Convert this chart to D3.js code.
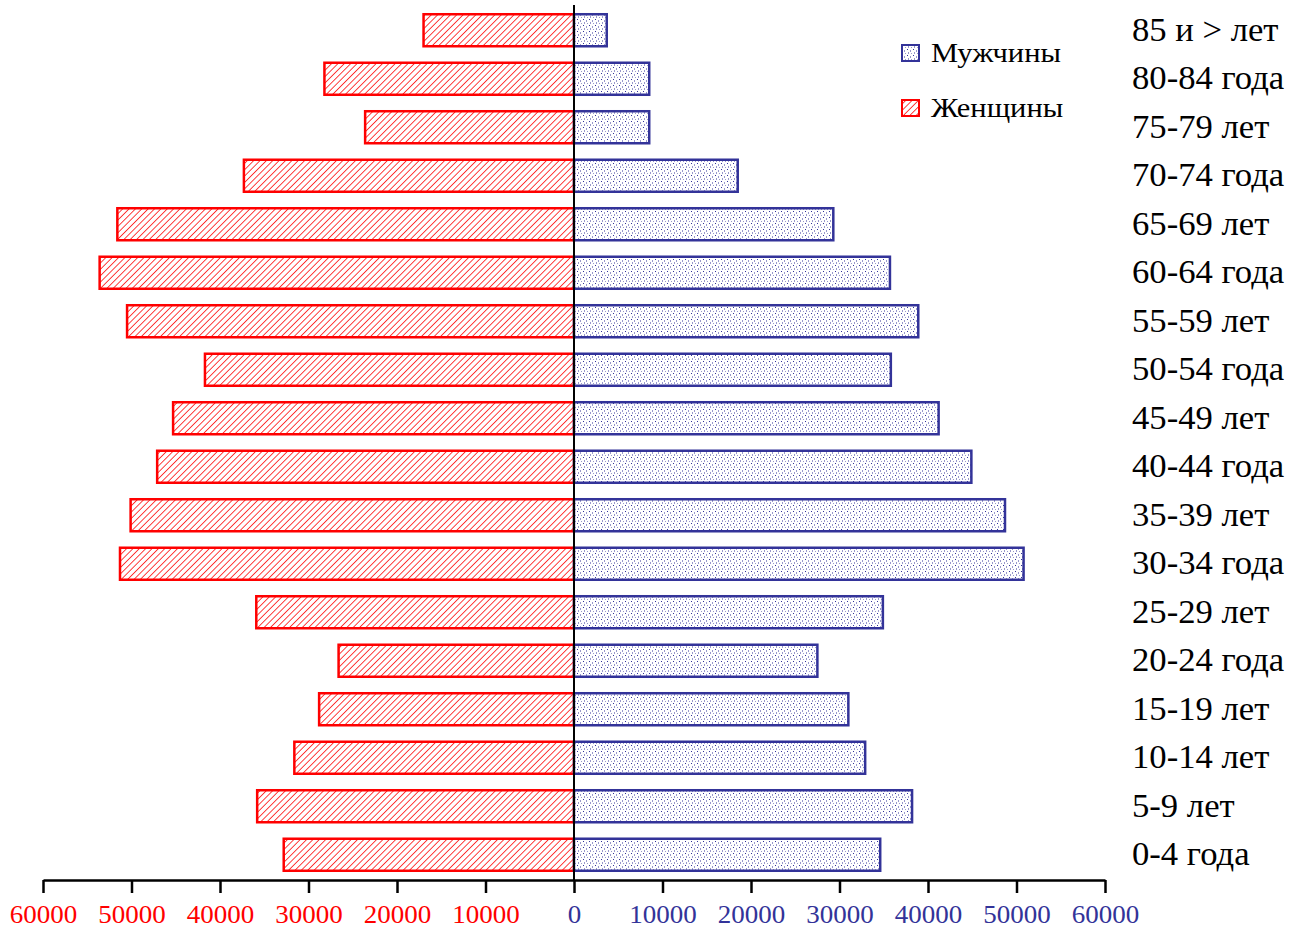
<!DOCTYPE html>
<html>
<head>
<meta charset="utf-8">
<script src="https://cdn.jsdelivr.net/npm/d3@7"></script>
<style>
  body { margin: 0; background: #fff; }
  svg { display: block; font-family: "Liberation Serif", "Times New Roman", serif; }
</style>
</head>
<body>
<div id="chart"></div>
<script>
const ageGroups = ['85 и > лет', '80-84 года', '75-79 лет', '70-74 года', '65-69 лет', '60-64 года',
    '55-59 лет', '50-54 года', '45-49 лет', '40-44 года', '35-39 лет', '30-34 года',
    '25-29 лет', '20-24 года', '15-19 лет', '10-14 лет', '5-9 лет', '0-4 года'];
const women = [17000, 28200, 23600, 37300, 51600, 53600, 50500, 41700, 45300, 47100, 50100, 51300,
    35900, 26600, 28800, 31600, 35800, 32800];
const men = [3700, 8500, 8500, 18500, 29300, 35700, 38900, 35800, 41200, 44900, 48700, 50800,
    34900, 27500, 31000, 32900, 38200, 34600];
const tickValues = [-60000, -50000, -40000, -30000, -20000, -10000, 0, 10000, 20000, 30000, 40000, 50000, 60000];
const seriesNames = ['Мужчины', 'Женщины'];

const width = 1289, height = 929;
const blue = '#333399', red = '#ff0000';

const svg = d3.select('#chart').append('svg')
    .attr('width', width)
    .attr('height', height);

const defs = svg.append('defs');

// hatch for women
const hatch = defs.append('pattern')
    .attr('id', 'hatch')
    .attr('patternUnits', 'userSpaceOnUse')
    .attr('width', 4.5)
    .attr('height', 4.5)
    .attr('patternTransform', 'rotate(45)');
hatch.append('rect').attr('width', 4.5).attr('height', 4.5).attr('fill', '#fff');
hatch.append('line')
    .attr('x1', 0).attr('y1', 0).attr('x2', 0).attr('y2', 4.5)
    .attr('stroke', red).attr('stroke-width', 1.5);

// dots for men
const dots = defs.append('pattern')
    .attr('id', 'dots')
    .attr('patternUnits', 'userSpaceOnUse')
    .attr('width', 6)
    .attr('height', 6);
dots.append('rect').attr('width', 6).attr('height', 6).attr('fill', '#fff');
[[1, 1], [4, 2.5], [2, 4.5], [5, 5.5]].forEach(([cx, cy]) => {
    dots.append('rect')
        .attr('x', cx).attr('y', cy).attr('width', 1).attr('height', 1)
        .attr('fill', blue);
});

const x = d3.scaleLinear()
    .domain([-60000, 60000])
    .range([43, 1105]);

const y = d3.scaleBand()
    .domain(ageGroups)
    .range([6, 879])
    .paddingInner(0.34)
    .paddingOuter(0.17);

// women bars
svg.append('g').selectAll('rect')
    .data(ageGroups)
    .join('rect')
    .attr('x', (d, i) => x(-women[i]))
    .attr('y', d => y(d))
    .attr('width', (d, i) => x(0) - x(-women[i]))
    .attr('height', y.bandwidth())
    .attr('fill', 'url(#hatch)')
    .attr('stroke', red)
    .attr('stroke-width', 2.5);

// men bars
svg.append('g').selectAll('rect')
    .data(ageGroups)
    .join('rect')
    .attr('x', x(0))
    .attr('y', d => y(d))
    .attr('width', (d, i) => x(men[i]) - x(0))
    .attr('height', y.bandwidth())
    .attr('fill', 'url(#dots)')
    .attr('stroke', blue)
    .attr('stroke-width', 2.5);

// zero line
svg.append('line')
    .attr('x1', x(0)).attr('x2', x(0))
    .attr('y1', 5).attr('y2', 880)
    .attr('stroke', '#000')
    .attr('stroke-width', 2);

// x axis
const axis = svg.append('g')
    .attr('transform', 'translate(0,880)')
    .call(d3.axisBottom(x)
        .tickValues(tickValues)
        .tickSize(13)
        .tickSizeOuter(0)
        .tickFormat(d => Math.abs(d)));
axis.select('.domain').attr('stroke', '#000').attr('stroke-width', 2.5);
axis.selectAll('.tick line').attr('stroke', '#000').attr('stroke-width', 2.5);
axis.selectAll('.tick text')
    .attr('y', 0)
    .attr('dy', 0)
    .attr('transform', 'translate(0,43) scale(1.08,1)')
    .attr('font-size', 25)
    .attr('font-family', '"Liberation Serif", serif')
    .attr('fill', d => d < 0 ? red : blue);

// category labels
svg.append('g').selectAll('text')
    .data(ageGroups)
    .join('text')
    .attr('transform', d => `translate(1132,${y(d) + y.bandwidth() / 2 + 10.5}) scale(1.05,1)`)
    .attr('font-size', 33)
    .attr('fill', '#000')
    .text(d => d);

// legend
const legend = svg.append('g');
const legendFills = ['url(#dots)', 'url(#hatch)'];
const legendStrokes = [blue, red];
seriesNames.forEach((name, i) => {
    const ly = 53 + i * 55;
    legend.append('rect')
        .attr('x', 902).attr('y', ly - 8)
        .attr('width', 17).attr('height', 16)
        .attr('fill', legendFills[i])
        .attr('stroke', legendStrokes[i])
        .attr('stroke-width', 2);
    legend.append('text')
        .attr('transform', `translate(931,${ly + 9}) scale(1.13,1)`)
        .attr('font-size', 27)
        .attr('fill', '#000')
        .text(name);
});
</script>
</body>
</html>
